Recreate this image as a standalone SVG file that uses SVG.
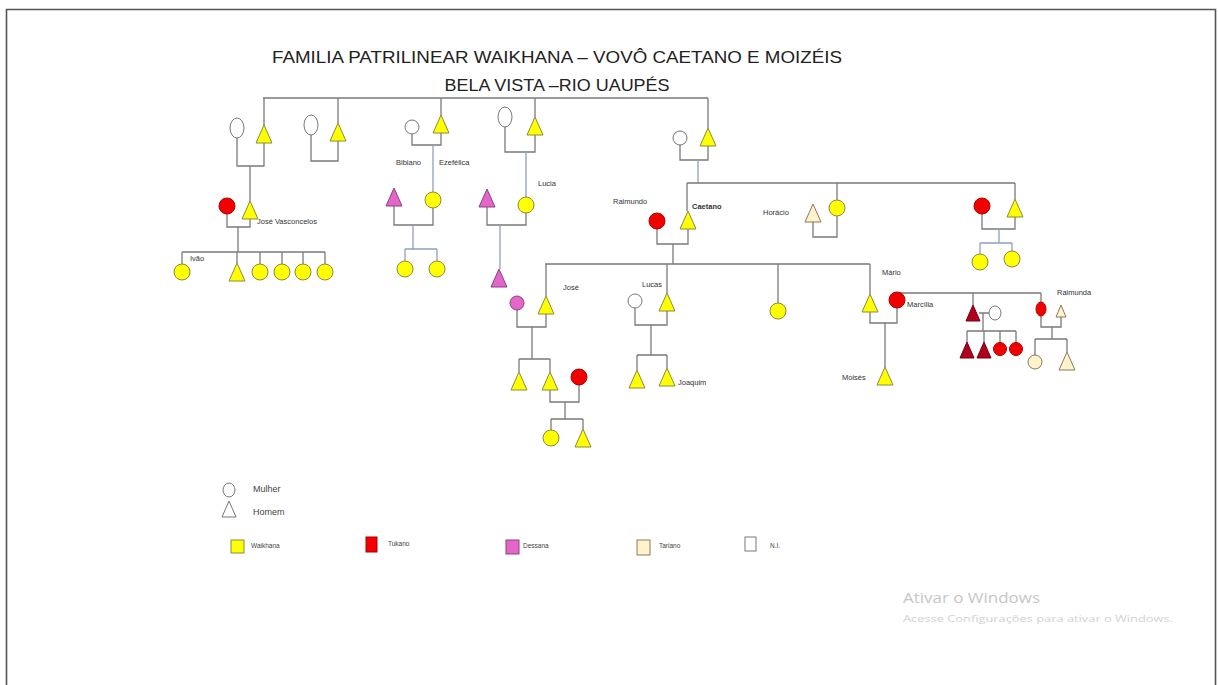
<svg xmlns="http://www.w3.org/2000/svg" width="1218" height="685" viewBox="0 0 1218 685">
<style>
.ln{stroke:#7a7a7a;stroke-width:1.3;fill:none}
.lb{stroke:#8f9fc0;stroke-width:1.3;fill:none}
.yel{fill:#FFFF00;stroke:#8a8a40;stroke-width:1}
.red{fill:#F20000;stroke:#b00000;stroke-width:1}
.pink{fill:#E466C8;stroke:#8a4080;stroke-width:1}
.dred{fill:#B0001E;stroke:#700010;stroke-width:1}
.tar{fill:#FFF2CC;stroke:#8a7a5a;stroke-width:1}
.wht{fill:#FFFFFF;stroke:#777;stroke-width:1}
.t{font-family:"Liberation Sans",Arial,sans-serif;font-size:7.5px;fill:#333}
.lg{font-family:"Liberation Sans",Arial,sans-serif;font-size:9px;fill:#444}
.ls{font-family:"Liberation Sans",Arial,sans-serif;font-size:6.5px;fill:#444}
.title{font-family:"Liberation Sans",Arial,sans-serif;font-size:17px;fill:#222}
</style>
<rect width="1218" height="685" fill="#fff"/>
<path d="M6.5,685 V9.5 H1215.5 V685" fill="none" stroke="#555" stroke-width="1.6"/>
<g id="title">
<text class="title" x="557" y="63" text-anchor="middle" textLength="570" lengthAdjust="spacingAndGlyphs">FAMILIA PATRILINEAR WAIKHANA – VOVÔ CAETANO E MOIZÉIS</text>
<text class="title" x="557" y="91" text-anchor="middle" textLength="225" lengthAdjust="spacingAndGlyphs">BELA VISTA –RIO UAUPÉS</text>
</g>
<g id="connectors">
<path class="ln" d="M263,98 H708 M264,98 V125 M338,98 V123 M441,98 V115 M535,98 V117 M708,98 V128"/>
<path class="ln" d="M237,138 V166 H264 V143 M250,166 V201"/>
<path class="ln" d="M311,135 V161 H338 V141"/>
<path class="ln" d="M412,134 V145 H441 V133"/>
<path class="lb" d="M433,145 V192"/>
<path class="ln" d="M505,127 V152 H535 V135"/>
<path class="lb" d="M526,152 V197"/>
<path class="ln" d="M680,145 V160 H708 V146"/>
<path class="lb" d="M698,160 V183"/>
<path class="ln" d="M227,214 V227 H250 V219 M238,227 V252 M182,252 H325 M182,252 V264 M237,252 V263 M260,252 V264 M282,252 V264 M303,252 V264 M325,252 V264"/>
<path class="ln" d="M394,206 V225 H433 V208"/>
<path class="lb" d="M413,225 V249 M405,249 H437 M405,249 V261 M437,249 V261"/>
<path class="ln" d="M487,207 V225 H526 V213"/>
<path class="lb" d="M500,225 V269"/>
<path class="ln" d="M687,183 H1015 M687,183 V211 M837,183 V200 M1015,183 V199"/>
<path class="ln" d="M657,229 V244 H688 V229 M673,244 V264"/>
<path class="ln" d="M813,222 V237 H837 V216"/>
<path class="ln" d="M982,214 V229 H1015 V217"/>
<path class="lb" d="M999,229 V243 M980,243 H1012 M980,243 V254 M1012,243 V251"/>
<path class="ln" d="M545,264 H870 M546,264 V296 M667,264 V293 M778,264 V303 M870,264 V294"/>
<path class="ln" d="M517,310 V327 H546 V314 M532,327 V359 M519,359 H550 M519,359 V372 M550,359 V372"/>
<path class="ln" d="M550,390 V402 H579 V385 M565,402 V419 M551,419 H583 M551,419 V430 M583,419 V429"/>
<path class="ln" d="M635,308 V325 H667 V311 M651,325 V355 M637,355 H667 M637,355 V370 M667,355 V368"/>
<path class="ln" d="M870,312 V323 H897 V308 M885,323 V367"/>
<path class="ln" d="M900,293 H1041 M973,293 V305 M1041,293 V302"/>
<path class="ln" d="M979,313 H989 M983,313 V331 M967,331 H1016 M967,331 V342 M984,331 V342 M1000,331 V343 M1016,331 V343"/>
<path class="ln" d="M1041,316 V327 H1061 V317 M1052,327 V339 M1035,339 H1067 M1035,339 V355 M1067,339 V352"/>
</g>
<g id="f1-mother"><ellipse class="wht" cx="237" cy="128" rx="7" ry="10"/></g>
<g id="f1-father"><polygon class="yel" points="264,125 272,143 256,143"/></g>
<g id="f2-mother"><ellipse class="wht" cx="311" cy="125" rx="7" ry="10"/></g>
<g id="f2-father"><polygon class="yel" points="338,123 346,141 330,141"/></g>
<g id="f3-mother"><circle class="wht" cx="412" cy="127" r="7"/></g>
<g id="f3-father"><polygon class="yel" points="441,115 449,133 433,133"/></g>
<g id="f4-mother"><ellipse class="wht" cx="505" cy="117" rx="7" ry="10"/></g>
<g id="f4-father"><polygon class="yel" points="535,117 543,135 527,135"/></g>
<g id="f5-mother"><circle class="wht" cx="680" cy="138" r="7"/></g>
<g id="f5-father"><polygon class="yel" points="708,128 716,146 700,146"/></g>
<g id="jv-wife"><circle class="red" cx="227" cy="206" r="8"/></g>
<g id="jose-vasconcelos"><polygon class="yel" points="250,201 258,219 242,219"/><text class="t" x="257" y="224">José Vasconcelos</text></g>
<g id="ivao"><circle class="yel" cx="182" cy="272" r="8"/><text class="t" x="190" y="261">Ivão</text></g>
<g id="jv-c2"><polygon class="yel" points="237,263 245,281 229,281"/></g>
<g id="jv-c3"><circle class="yel" cx="260" cy="272" r="8"/></g>
<g id="jv-c4"><circle class="yel" cx="282" cy="272" r="8"/></g>
<g id="jv-c5"><circle class="yel" cx="303" cy="272" r="8"/></g>
<g id="jv-c6"><circle class="yel" cx="325" cy="272" r="8"/></g>
<g id="bibiano"><polygon class="pink" points="394,188 402,206 386,206"/><text class="t" x="396" y="165">Bibiano</text></g>
<g id="ezefelica"><circle class="yel" cx="433" cy="200" r="8"/><text class="t" x="439" y="165">Ezefélica</text></g>
<g id="bz-c1"><circle class="yel" cx="405" cy="269" r="8"/></g>
<g id="bz-c2"><circle class="yel" cx="437" cy="269" r="8"/></g>
<g id="lucia-husband"><polygon class="pink" points="487,189 495,207 479,207"/></g>
<g id="lucia"><circle class="yel" cx="526" cy="205" r="8"/><text class="t" x="538" y="186">Lucia</text></g>
<g id="lucia-son"><polygon class="pink" points="499,269 507,287 491,287"/></g>
<g id="raimundo"><circle class="red" cx="657" cy="221" r="8"/><text class="t" x="613" y="204">Raimundo</text></g>
<g id="caetano"><polygon class="yel" points="688,211 696,229 680,229"/><text class="t" x="692" y="209" font-weight="bold">Caetano</text></g>
<g id="horacio"><polygon class="tar" points="813,204 821,222 805,222"/><text class="t" x="763" y="215">Horácio</text></g>
<g id="horacio-wife"><circle class="yel" cx="837" cy="208" r="8"/></g>
<g id="r-wife"><circle class="red" cx="982" cy="206" r="8"/></g>
<g id="r-brother"><polygon class="yel" points="1015,199 1023,217 1007,217"/></g>
<g id="r-c1"><circle class="yel" cx="980" cy="262" r="8"/></g>
<g id="r-c2"><circle class="yel" cx="1012" cy="259" r="8"/></g>
<g id="jose-wife"><circle class="pink" cx="517" cy="303" r="7"/></g>
<g id="jose"><polygon class="yel" points="546,296 554,314 538,314"/><text class="t" x="563" y="290">José</text></g>
<g id="jose-c1"><polygon class="yel" points="519,372 527,390 511,390"/></g>
<g id="jose-c2"><polygon class="yel" points="550,372 558,390 542,390"/></g>
<g id="jose-c2-wife"><circle class="red" cx="579" cy="377" r="8"/></g>
<g id="gc1"><circle class="yel" cx="551" cy="438" r="8"/></g>
<g id="gc2"><polygon class="yel" points="583,429 591,447 575,447"/></g>
<g id="lucas-wife"><circle class="wht" cx="635" cy="301" r="7"/></g>
<g id="lucas"><polygon class="yel" points="667,293 675,311 659,311"/><text class="t" x="642" y="287">Lucas</text></g>
<g id="lucas-c1"><polygon class="yel" points="637,370 645,388 629,388"/></g>
<g id="joaquim"><polygon class="yel" points="667,368 675,386 659,386"/><text class="t" x="678" y="385">Joaquim</text></g>
<g id="daughter"><circle class="yel" cx="778" cy="311" r="8"/></g>
<g id="mario"><polygon class="yel" points="870,294 878,312 862,312"/><text class="t" x="882" y="275">Mário</text></g>
<g id="marcilia"><circle class="red" cx="897" cy="300" r="8"/><text class="t" x="907" y="307">Marcília</text></g>
<g id="moises"><polygon class="yel" points="885,367 893,385 877,385"/><text class="t" x="842" y="380">Moisés</text></g>
<g id="m-brother"><polygon class="dred" points="973,305 980,321 966,321"/></g>
<g id="m-brother-wife"><ellipse class="wht" cx="995" cy="313" rx="6" ry="7"/></g>
<g id="mb-c1"><polygon class="dred" points="967,342 974,358 960,358"/></g>
<g id="mb-c2"><polygon class="dred" points="984,342 991,358 977,358"/></g>
<g id="mb-c3"><circle class="red" cx="1000" cy="349" r="6.5"/></g>
<g id="mb-c4"><circle class="red" cx="1016" cy="349" r="6.5"/></g>
<g id="raimunda"><ellipse class="red" cx="1041" cy="309" rx="5" ry="7"/><text class="t" x="1057" y="295">Raimunda</text></g>
<g id="raimunda-husband"><polygon class="tar" points="1061,305 1066,317 1056,317"/></g>
<g id="ra-c1"><circle class="tar" cx="1035" cy="362" r="7"/></g>
<g id="ra-c2"><polygon class="tar" points="1067,352 1075,370 1059,370"/></g>
<g id="legend">
<ellipse class="wht" cx="229" cy="490" rx="6" ry="7"/>
<text class="lg" x="253" y="492">Mulher</text>
<polygon class="wht" points="229,501 236,517 222,517"/>
<text class="lg" x="253" y="515">Homem</text>
<rect class="yel" x="231" y="540" width="13" height="13"/>
<text class="ls" x="251" y="548">Waikhana</text>
<rect class="red" x="366" y="537" width="11" height="15"/>
<text class="ls" x="388" y="546">Tukano</text>
<rect class="pink" x="506" y="540" width="13" height="14"/>
<text class="ls" x="523" y="548">Dessana</text>
<rect class="tar" x="637" y="540" width="13" height="15"/>
<text class="ls" x="659" y="548">Tariano</text>
<rect class="wht" x="745" y="537" width="11" height="14"/>
<text class="ls" x="770" y="548">N.I.</text>
</g>
<g id="watermark">
<text x="903" y="603" font-family="'Open Sans','Liberation Sans',sans-serif" font-size="14" fill="#c6c6c6" textLength="137" lengthAdjust="spacingAndGlyphs">Ativar o Windows</text>
<text x="903" y="622" font-family="'Open Sans','Liberation Sans',sans-serif" font-size="8.5" fill="#d2d2d2" textLength="270" lengthAdjust="spacingAndGlyphs">Acesse Configurações para ativar o Windows.</text>
</g>
</svg>
